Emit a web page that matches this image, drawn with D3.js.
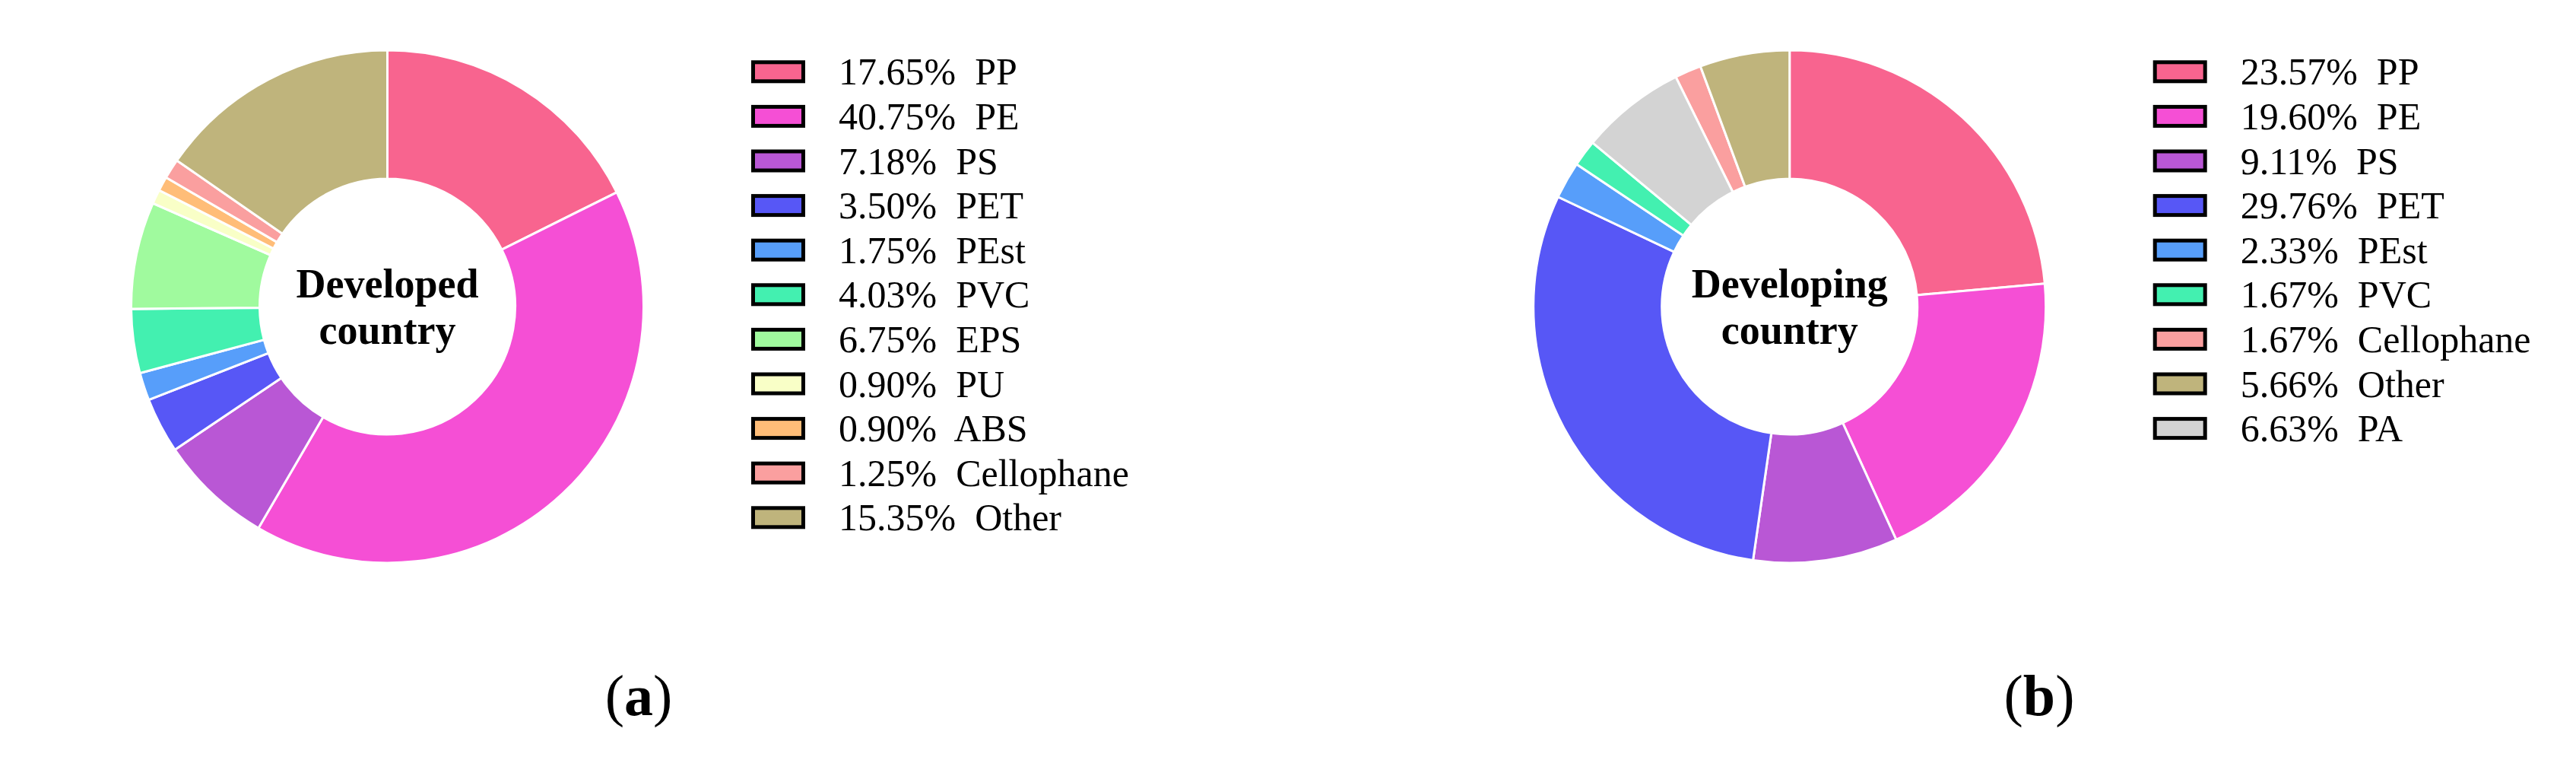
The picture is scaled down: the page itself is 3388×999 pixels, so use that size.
<!DOCTYPE html>
<html>
<head>
<meta charset="utf-8">
<script src="https://cdn.jsdelivr.net/npm/d3@7"></script>
<style>
  body { margin: 0; background: #fff; }
  svg text { font-family: "Liberation Serif", "Times New Roman", serif; }
</style>
</head>
<body>
<svg id="chart"></svg>
<script>
// developed country (legend order == pie order)
var labelsA = ["PP", "PE", "PS", "PET", "PEst", "PVC", "EPS", "PU", "ABS", "Cellophane", "Other"];
var valuesA = [17.65, 40.75, 7.18, 3.50, 1.75, 4.03, 6.75, 0.90, 0.90, 1.25, 15.35];

// developing country (legend order)
var labelsB = ["PP", "PE", "PS", "PET", "PEst", "PVC", "Cellophane", "Other", "PA"];
var valuesB = [23.57, 19.60, 9.11, 29.76, 2.33, 1.67, 1.67, 5.66, 6.63];
// order the wedges are drawn in, clockwise from 12 o'clock
var pieOrderB = ["PP", "PE", "PS", "PET", "PEst", "PVC", "PA", "Cellophane", "Other"];

var colorNames = ["PP", "PE", "PS", "PET", "PEst", "PVC", "EPS", "PU", "ABS", "Cellophane", "Other", "PA"];
var colorValues = ["#f8648f", "#f54fd5", "#b957d5", "#5757f6", "#579efa", "#43f0b0",
                   "#a0fa9e", "#f9ffc7", "#ffbd78", "#fa9f9f", "#bfb47c", "#d3d3d3"];

var W = 3388, H = 999;
var svg = d3.select("#chart").attr("width", W).attr("height", H);

var color = d3.scaleOrdinal().domain(colorNames).range(colorValues);

var outerR = 337, innerR = 168;
var arc = d3.arc().innerRadius(innerR).outerRadius(outerR);

function donut(cx, cy, labels, values, order, title) {
    var data = labels.map(function(l, i) { return { label: l, value: values[i] }; });
    var pie = d3.pie().value(function(d) { return d.value; })
        .sort(function(a, b) { return order.indexOf(a.label) - order.indexOf(b.label); });

    var g = svg.append("g").attr("transform", "translate(" + cx + "," + cy + ")");
    g.selectAll("path")
        .data(pie(data))
        .enter().append("path")
        .attr("d", arc)
        .attr("fill", function(d) { return color(d.data.label); })
        .attr("stroke", "#fff")
        .attr("stroke-width", 3);

    var t = g.append("text")
        .attr("text-anchor", "middle")
        .style("font-size", "54px")
        .style("font-weight", "bold");
    t.append("tspan").attr("x", 0).attr("y", -12).text(title[0]);
    t.append("tspan").attr("x", 0).attr("y", 49).text(title[1]);
}

function legend(x0, labels, values) {
    var y = d3.scaleLinear().domain([0, 1]).range([94.3, 94.3 + 58.6]);
    var rows = svg.append("g").selectAll("g")
        .data(labels)
        .enter().append("g")
        .attr("transform", function(d, i) { return "translate(" + x0 + "," + y(i) + ")"; });

    rows.append("rect")
        .attr("x", 2.5)
        .attr("y", -12.5)
        .attr("width", 66)
        .attr("height", 25)
        .attr("fill", function(d) { return color(d); })
        .attr("stroke", "#000")
        .attr("stroke-width", 5);

    rows.append("text")
        .attr("x", 115)
        .attr("y", 17)
        .style("font-size", "50px")
        .style("white-space", "pre")
        .text(function(d, i) { return values[i].toFixed(2) + "%  " + d; });
}

donut(509.5, 403, labelsA, valuesA, labelsA, ["Developed", "country"]);
legend(988, labelsA, valuesA);

donut(2353.7, 403, labelsB, valuesB, pieOrderB, ["Developing", "country"]);
legend(2831.7, labelsB, valuesB);

// panel captions
[["a", 840], ["b", 2682]].forEach(function(c) {
    var t = svg.append("text")
        .attr("x", c[1])
        .attr("y", 940)
        .attr("text-anchor", "middle")
        .style("font-size", "76px");
    t.append("tspan").text("(");
    t.append("tspan").style("font-weight", "bold").text(c[0]);
    t.append("tspan").text(")");
});
</script>
</body>
</html>
